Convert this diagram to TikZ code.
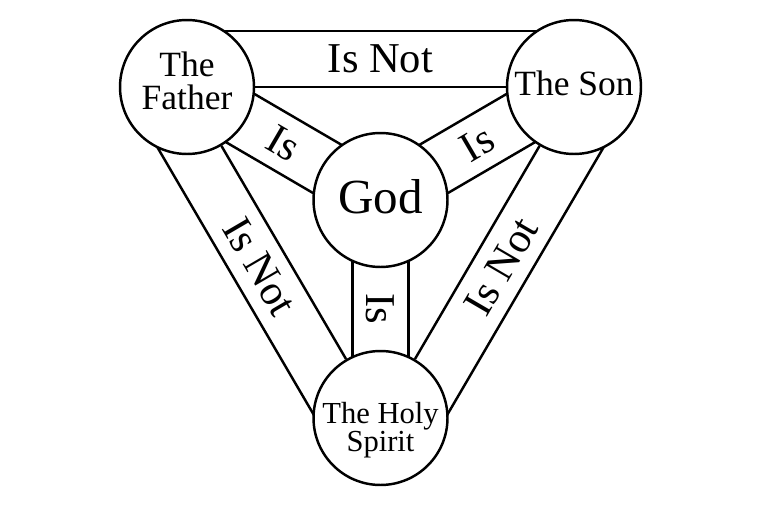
\documentclass[tikz,border=0pt]{standalone}
\usepackage{fontspec}
\setmainfont{Liberation Serif}
\usetikzlibrary{calc,positioning,backgrounds}

\begin{document}
\begin{tikzpicture}[
    x=0.02cm, y=-0.02cm,
    line width=1.4pt,
    person/.style={
        circle,
        draw,
        fill=white,
        minimum size=2.68cm,
        inner sep=0pt
      },
    band/.style={line width=1.4pt},
    who/.style={align=center, inner sep=0pt, font=\fontsize{20.2}{19}\selectfont},
    rel/.style={inner sep=0pt, font=\fontsize{24.2}{26}\selectfont}
    ]
    \useasboundingbox (0,0) rectangle (761,507);

    \node[person] (father) at (187,87) {};
    \node[person] (son) at (574,87) {};
    \node[person] (god) at (380.5,200) {};
    \node[person] (spirit) at (380.5,418) {};

    \node[who, yshift=0.12cm] (fathertxt) at (father) {The\\Father};
    \node[who, yshift=0.066cm] (sontxt) at (son) {The Son};
    \node[who, yshift=0.066cm, font=\fontsize{27.9}{30}\selectfont] (godtxt) at (god) {God};
    \node[who, yshift=-0.24cm, font=\fontsize{17.4}{15.9}\selectfont] (spirittxt) at (spirit) {The Holy\\Spirit};

    % bands, behind the circles
    \begin{scope}[on background layer]
      \draw[band] (father) -- (son);
      \draw[band] ($(father)!1.12cm!90:(son)$) -- ($(son)!1.12cm!-90:(father)$);
      \draw[band] (father) -- (spirit);
      \draw[band] ($(father)!1.12cm!-90:(spirit)$) -- ($(spirit)!1.12cm!90:(father)$);
      \draw[band] (son) -- (spirit);
      \draw[band] ($(son)!1.12cm!90:(spirit)$) -- ($(spirit)!1.12cm!-90:(son)$);
      \foreach \p in {father,son,spirit} {
        \draw[band] ($(\p)!0.56cm!90:(god)$) -- ($(god)!0.56cm!-90:(\p)$);
        \draw[band] ($(\p)!0.56cm!-90:(god)$) -- ($(god)!0.56cm!90:(\p)$);
      }
    \end{scope}

    \coordinate (fs) at ($(father)!0.5!(son)$);
    \coordinate (fh) at ($(father)!0.5!(spirit)$);
    \coordinate (sh) at ($(son)!0.5!(spirit)$);

    \node[rel] (isnotfs) at ($(fs)!0.56cm!90:(son)$) {Is Not};
    \node[rel, rotate=-59.7] (isnotfh) at ($(fh)!0.56cm!-90:(spirit)$) {Is Not};
    \node[rel, rotate=59.7] (isnotsh) at ($(sh)!0.56cm!90:(spirit)$) {Is Not};
    \node[rel, rotate=-30.3] (isfg) at ($(father)!0.5!(god)$) {Is};
    \node[rel, rotate=30.3] (issg) at ($(son)!0.5!(god)$) {Is};
    \node[rel, rotate=-90] (isgh) at ($(god)!0.5!(spirit)$) {Is};

  \end{tikzpicture}
\end{document}
